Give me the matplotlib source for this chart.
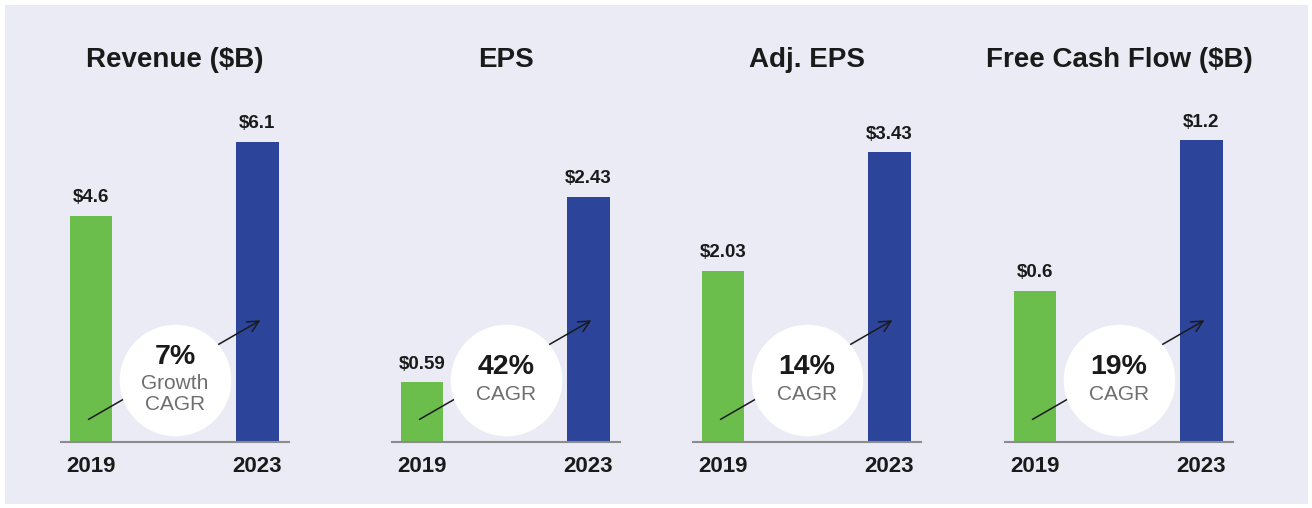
import matplotlib.pyplot as plt
from matplotlib.patches import Rectangle

# data
titles = ["Revenue (\\$B)", "EPS", "Adj. EPS", "Free Cash Flow (\\$B)"]
years = ["2019", "2023"]
values_2019 = [4.6, 0.59, 2.03, 0.6]
values_2023 = [6.1, 2.43, 3.43, 1.2]
labels_2019 = ["\\$4.6", "\\$0.59", "\\$2.03", "\\$0.6"]
labels_2023 = ["\\$6.1", "\\$2.43", "\\$3.43", "\\$1.2"]
cagr = ["7%", "42%", "14%", "19%"]
cagr_sub = ["Growth\nCAGR", "CAGR", "CAGR", "CAGR"]

# layout (pixels)
W, H = 1312, 508
panel_left = [61, 392, 693, 1005]
panel_w = 228
base_y = 442
top_y = 100
y_max = [6.95, 3.39, 4.05, 1.36]

BG = "#EBEBF5"
GREEN = "#6BBE4B"
BLUE = "#2C4499"
DARK = "#1A1A1A"
GREY = "#6E6E6E"

plt.rcParams["font.family"] = ["Liberation Sans", "DejaVu Sans"]

fig = plt.figure(figsize=(W / 100, H / 100), dpi=100)
fig.patch.set_facecolor("white")
fig.patches.append(Rectangle((5 / W, 4 / H), (W - 9) / W, (H - 9) / H,
                             transform=fig.transFigure, facecolor=BG,
                             edgecolor="none", zorder=-10))

for i in range(4):
    ax = fig.add_axes([panel_left[i] / W, (H - base_y) / H,
                       panel_w / W, (base_y - top_y) / H])
    ax.patch.set_visible(False)
    vals = [values_2019[i], values_2023[i]]
    bars = ax.bar([0, 1], vals, width=0.255, color=[GREEN, BLUE], zorder=2)
    ax.set_xlim(-0.18, 1.19)
    ax.set_ylim(0, y_max[i])

    for b, lab in zip(bars, [labels_2019[i], labels_2023[i]]):
        ax.annotate(lab, (b.get_x() + b.get_width() / 2, b.get_height()),
                    xytext=(0, 7), textcoords="offset points",
                    ha="center", va="bottom", fontsize=13.5,
                    fontweight="bold", color=DARK)

    for s in ["top", "right", "left"]:
        ax.spines[s].set_visible(False)
    ax.spines["bottom"].set_color("#8C8C8C")
    ax.spines["bottom"].set_linewidth(1.5)
    ax.set_yticks([])
    ax.set_xticks([0, 1])
    ax.set_xticklabels(years, fontsize=16, fontweight="bold", color=DARK)
    ax.tick_params(axis="x", length=0, pad=10)

    # growth arrow behind the circle
    ax.annotate("", xy=(0.885, 0.36), xytext=(0.11, 0.062),
                xycoords="axes fraction", textcoords="axes fraction",
                arrowprops=dict(arrowstyle="->", color=DARK, lw=1.1,
                                mutation_scale=20), zorder=3)
    ax.scatter([0.5], [0.18], s=6450, color="white", transform=ax.transAxes,
               zorder=4, clip_on=False, linewidths=0)

    if "\n" in cagr_sub[i]:
        ax.text(0.5, 0.25, cagr[i], transform=ax.transAxes, ha="center",
                va="center", fontsize=20.5, fontweight="bold", color=DARK, zorder=5)
        ax.text(0.5, 0.14, cagr_sub[i], transform=ax.transAxes, ha="center",
                va="center", fontsize=15, color=GREY, linespacing=1.15, zorder=5)
    else:
        ax.text(0.5, 0.218, cagr[i], transform=ax.transAxes, ha="center",
                va="center", fontsize=20.5, fontweight="bold", color=DARK, zorder=5)
        ax.text(0.5, 0.138, cagr_sub[i], transform=ax.transAxes, ha="center",
                va="center", fontsize=15, color=GREY, zorder=5)

    fig.text((panel_left[i] + panel_w / 2) / W, 1 - 60 / H, titles[i],
             ha="center", va="center", fontsize=20, fontweight="bold", color=DARK)

fig.savefig("out.png", dpi=100, facecolor=fig.get_facecolor())
